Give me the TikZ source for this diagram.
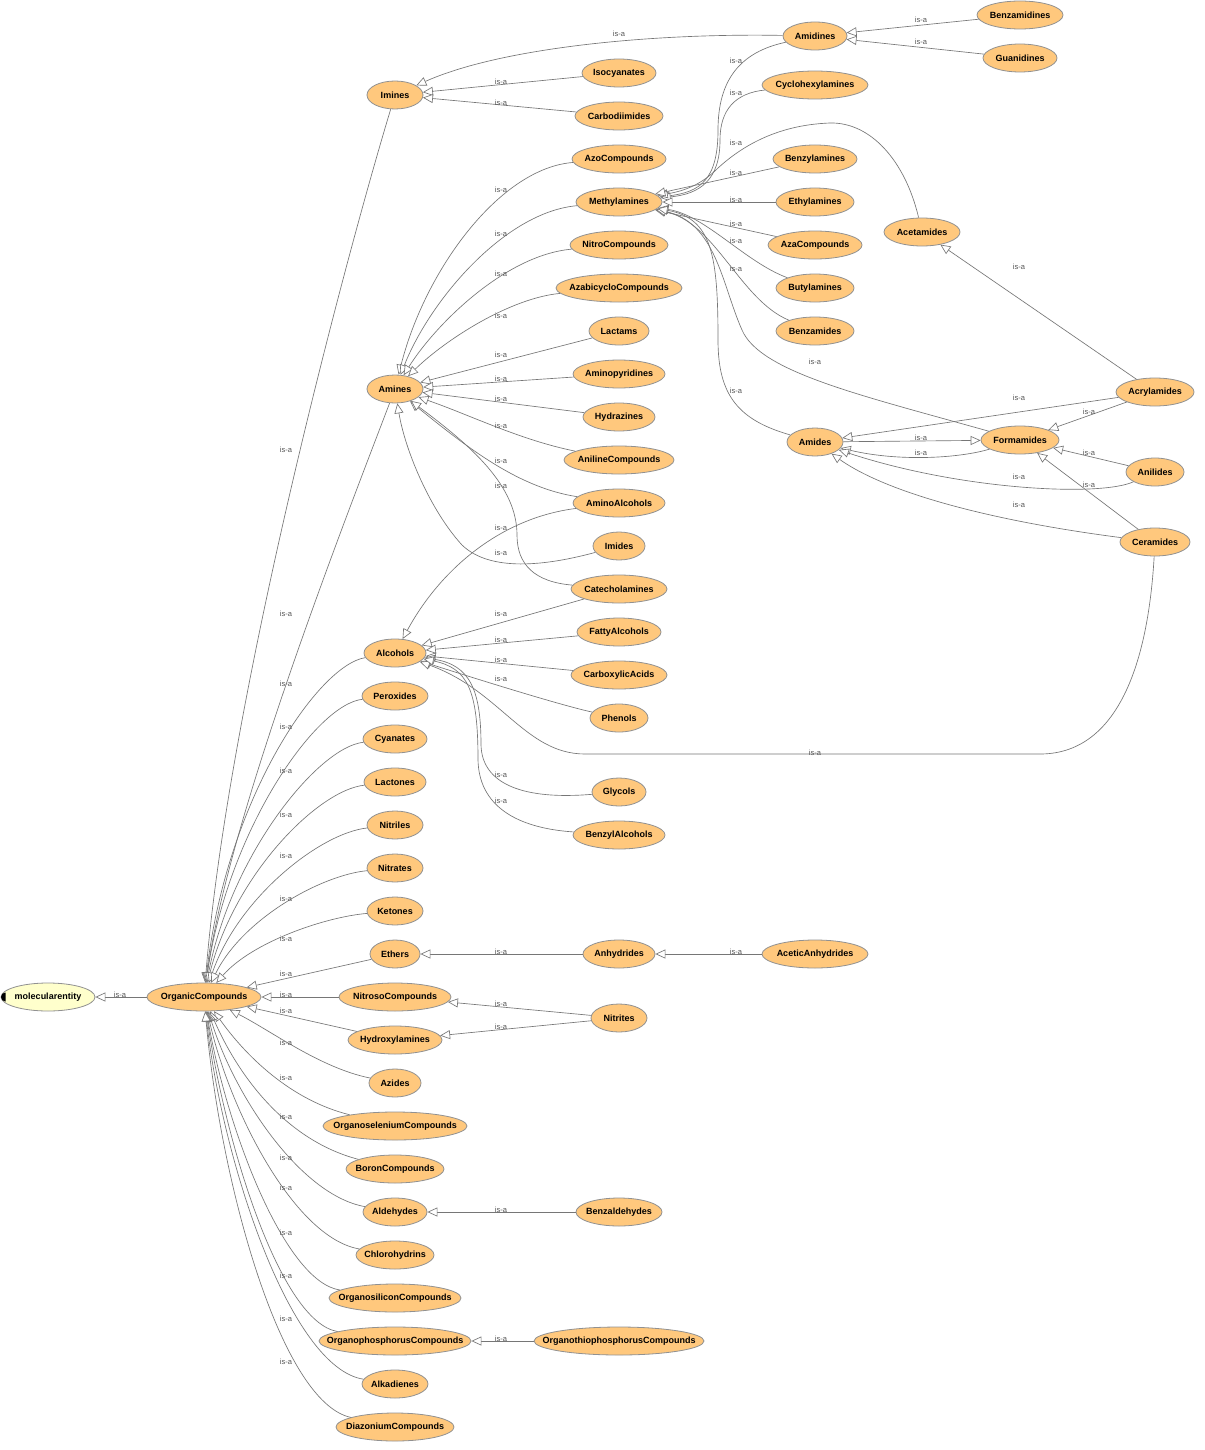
\documentclass[tikz,border=0pt]{standalone}
\usepackage{fontspec}
\setmainfont{Liberation Sans}
\usetikzlibrary{arrows.meta,shapes.geometric}
\definecolor{entfill}{RGB}{255,200,125}
\definecolor{rootfill}{RGB}{255,255,204}
\definecolor{entline}{RGB}{145,145,145}
\definecolor{edgec}{RGB}{118,118,118}
\definecolor{lblc}{RGB}{85,85,85}
\newcommand\lbl[1]{\makebox[0pt]{#1}}
\newcommand\ent[5]{\node[ent,minimum width=#4pt] (#1) at (#2,#3) {\lbl{#5}};}
\begin{document}
\begin{tikzpicture}[x=1pt,y=-1pt,
 ent/.style={ellipse, draw=entline, fill=entfill, line width=0.8pt, minimum height=28pt, inner sep=0pt, font=\fontsize{9}{10}\selectfont\bfseries},
 isa/.style={draw=edgec, line width=0.65pt, -{Triangle[length=10pt,width=9pt,fill=white]}},
 isalbl/.style={text=lblc, font=\fontsize{7.5}{8}\selectfont, inner sep=0pt}]
\useasboundingbox[fill=white] (0,0) rectangle (1204,1450);

% ---------- nodes ----------
\node[ent,fill=rootfill,minimum width=94pt] (ME) at (48,997) {\lbl{molecularentity}};
\ent{OC}{204}{997}{114}{OrganicCompounds}
\ent{Imines}{395}{95}{56}{Imines}
\ent{Amidines}{815}{36}{64}{Amidines}
\ent{Benzamidines}{1020}{15}{86}{Benzamidines}
\ent{Guanidines}{1020}{58}{74}{Guanidines}
\ent{Isocyanates}{619}{73}{74}{Isocyanates}
\ent{Carbodiimides}{619}{116}{88}{Carbodiimides}
\ent{Cyclohexylamines}{815}{85}{106}{Cyclohexylamines}
\ent{Azo}{619}{159}{94}{AzoCompounds}
\ent{Methylamines}{619}{202}{86}{Methylamines}
\ent{Benzylamines}{815}{159}{84}{Benzylamines}
\ent{Ethylamines}{815}{202}{78}{Ethylamines}
\ent{AzaCompounds}{815}{245}{94}{AzaCompounds}
\ent{Butylamines}{815}{288}{78}{Butylamines}
\ent{Benzamides}{815}{331}{78}{Benzamides}
\ent{Acetamides}{922}{232}{76}{Acetamides}
\ent{Nitro}{619}{245}{98}{NitroCompounds}
\ent{Azabicyclo}{619}{288}{126}{AzabicycloCompounds}
\ent{Lactams}{619}{331}{60}{Lactams}
\ent{Amines}{395}{389}{56}{Amines}
\ent{Aminopyridines}{619}{374}{92}{Aminopyridines}
\ent{Hydrazines}{619}{417}{72}{Hydrazines}
\ent{Aniline}{619}{460}{110}{AnilineCompounds}
\ent{AminoAlcohols}{619}{503}{92}{AminoAlcohols}
\ent{Imides}{619}{546}{52}{Imides}
\ent{Catecholamines}{619}{589}{96}{Catecholamines}
\ent{Amides}{815}{442}{56}{Amides}
\ent{Formamides}{1020}{440}{78}{Formamides}
\ent{Acrylamides}{1155}{392}{78}{Acrylamides}
\ent{Anilides}{1155}{472}{58}{Anilides}
\ent{Ceramides}{1155}{542}{70}{Ceramides}
\ent{Alcohols}{395}{653}{62}{Alcohols}
\ent{FattyAlcohols}{619}{632}{84}{FattyAlcohols}
\ent{CarboxylicAcids}{619}{675}{96}{CarboxylicAcids}
\ent{Phenols}{619}{718}{58}{Phenols}
\ent{Glycols}{619}{792}{54}{Glycols}
\ent{BenzylAlcohols}{619}{835}{92}{BenzylAlcohols}
\ent{Peroxides}{395}{696}{66}{Peroxides}
\ent{Cyanates}{395}{739}{64}{Cyanates}
\ent{Lactones}{395}{782}{62}{Lactones}
\ent{Nitriles}{395}{825}{56}{Nitriles}
\ent{Nitrates}{395}{868}{56}{Nitrates}
\ent{Ketones}{395}{911}{56}{Ketones}
\ent{Ethers}{395}{954}{50}{Ethers}
\ent{Anhydrides}{619}{954}{72}{Anhydrides}
\ent{AceticAnhydrides}{815}{954}{106}{AceticAnhydrides}
\ent{Nitroso}{395}{997}{112}{NitrosoCompounds}
\ent{Nitrites}{619}{1018}{56}{Nitrites}
\ent{Hydroxylamines}{395}{1040}{94}{Hydroxylamines}
\ent{Azides}{395}{1083}{52}{Azides}
\ent{Organoselenium}{395}{1126}{144}{OrganoseleniumCompounds}
\ent{Boron}{395}{1169}{98}{BoronCompounds}
\ent{Aldehydes}{395}{1212}{64}{Aldehydes}
\ent{Benzaldehydes}{619}{1212}{86}{Benzaldehydes}
\ent{Chlorohydrins}{395}{1255}{78}{Chlorohydrins}
\ent{Organosilicon}{395}{1298}{132}{OrganosiliconCompounds}
\ent{Organophos}{395}{1341}{152}{OrganophosphorusCompounds}
\ent{Organothio}{619}{1341}{170}{OrganothiophosphorusCompounds}
\ent{Alkadienes}{395}{1384}{66}{Alkadienes}
\ent{Diazonium}{395}{1427}{118}{DiazoniumCompounds}

% marker on molecularentity
\fill[black] (5.5,992.5) arc[start angle=90, end angle=270, radius=4.5pt] -- cycle;

% ---------- edges ----------
\draw[isa] (OC) -- (ME);
% OrganicCompounds fan (top)
\draw[isa] (Imines) .. controls (345,260) and (228,700) .. (OC);
\draw[isa] (Amines) .. controls (345,520) and (228,820) .. (OC);
\draw[isa] (Alcohols) .. controls (318,665) and (226,800) .. (OC);
\draw[isa] (Peroxides) .. controls (316,704) and (228,830) .. (OC);
\draw[isa] (Cyanates) .. controls (318,747) and (231,855) .. (OC);
\draw[isa] (Lactones) .. controls (318,790) and (234,875) .. (OC);
\draw[isa] (Nitriles) .. controls (320,833) and (238,898) .. (OC);
\draw[isa] (Nitrates) .. controls (322,875) and (243,918) .. (OC);
\draw[isa] (Ketones) .. controls (325,917) and (252,942) .. (OC);
\draw[isa] (Ethers) -- (OC);
\draw[isa] (Nitroso) -- (OC);
\draw[isa] (Hydroxylamines) -- (OC);
% OrganicCompounds fan (bottom)
\draw[isa] (Azides) .. controls (320,1068) and (270,1030) .. (OC);
\draw[isa] (Organoselenium) .. controls (290,1100) and (245,1055) .. (OC);
\draw[isa] (Boron) .. controls (285,1140) and (238,1075) .. (OC);
\draw[isa] (Aldehydes) .. controls (300,1195) and (234,1095) .. (OC);
\draw[isa] (Chlorohydrins) .. controls (295,1238) and (230,1112) .. (OC);
\draw[isa] (Organosilicon) .. controls (285,1282) and (227,1130) .. (OC);
\draw[isa] (Organophos) .. controls (280,1322) and (225,1142) .. (OC);
\draw[isa] (Alkadienes) .. controls (290,1368) and (222,1160) .. (OC);
\draw[isa] (Diazonium) .. controls (280,1402) and (220,1180) .. (OC);
% Imines / Amidines
\draw[isa] (Amidines) .. controls (650,33) and (500,48) .. (Imines);
\draw[isa] (Isocyanates) -- (Imines);
\draw[isa] (Carbodiimides) -- (Imines);
\draw[isa] (Benzamidines) -- (Amidines);
\draw[isa] (Guanidines) -- (Amidines);
% Methylamines
\draw[isa] (Amidines) .. controls (740,52) and (718,80) .. (718,130) .. controls (718,180) and (700,192) .. (Methylamines);
\draw[isa] (Cyclohexylamines) .. controls (735,93) and (720,110) .. (720,140) .. controls (720,180) and (700,194) .. (Methylamines);
\draw[isa] (Acetamides) .. controls (905,160) and (870,122) .. (830,123) .. controls (775,125) and (740,148) .. (718,168) .. controls (705,181) and (690,190) .. (Methylamines);
\draw[isa] (Benzylamines) -- (Methylamines);
\draw[isa] (Ethylamines) -- (Methylamines);
\draw[isa] (AzaCompounds) -- (Methylamines);
\draw[isa] (Butylamines) .. controls (745,262) and (705,215) .. (Methylamines);
\draw[isa] (Benzamides) .. controls (740,300) and (715,222) .. (Methylamines);
\draw[isa] (Formamides) .. controls (860,395) and (760,372) .. (742,330) .. controls (722,285) and (716,222) .. (Methylamines);
\draw[isa] (Amides) .. controls (738,420) and (718,395) .. (718,340) .. controls (718,255) and (712,218) .. (Methylamines);
% Amines
\draw[isa] (Azo) .. controls (500,168) and (425,270) .. (Amines);
\draw[isa] (Methylamines) .. controls (505,212) and (430,300) .. (Amines);
\draw[isa] (Nitro) .. controls (505,255) and (435,325) .. (Amines);
\draw[isa] (Azabicyclo) .. controls (510,298) and (445,340) .. (Amines);
\draw[isa] (Lactams) -- (Amines);
\draw[isa] (Aminopyridines) -- (Amines);
\draw[isa] (Hydrazines) -- (Amines);
\draw[isa] (Aniline) .. controls (520,440) and (470,415) .. (Amines);
\draw[isa] (AminoAlcohols) .. controls (520,488) and (470,450) .. (Amines);
\draw[isa] (Catecholamines) .. controls (535,582) and (517,565) .. (517,535) .. controls (517,485) and (470,445) .. (Amines);
\draw[isa] (Imides) .. controls (545,566) and (490,572) .. (462,545) .. controls (430,510) and (405,450) .. (Amines);
% Alcohols
\draw[isa] (AminoAlcohols) .. controls (500,518) and (440,570) .. (Alcohols);
\draw[isa] (Catecholamines) -- (Alcohols);
\draw[isa] (FattyAlcohols) -- (Alcohols);
\draw[isa] (CarboxylicAcids) -- (Alcohols);
\draw[isa] (Phenols) .. controls (560,705) and (480,680) .. (Alcohols);
\draw[isa] (Ceramides) .. controls (1147,680) and (1110,754) .. (1040,754) -- (585,754) .. controls (525,754) and (500,690) .. (Alcohols);
\draw[isa] (Glycols) .. controls (525,800) and (482,785) .. (481,745) .. controls (481,690) and (470,665) .. (Alcohols);
\draw[isa] (BenzylAlcohols) .. controls (515,828) and (479,805) .. (478,760) .. controls (478,690) and (468,668) .. (Alcohols);
% Amides group
\draw[isa] (Acrylamides) -- (Acetamides);
\draw[isa] (Acrylamides) -- (Amides);
\draw[isa] (Acrylamides) -- (Formamides);
\draw[isa] (Amides) -- (Formamides);
\draw[isa] (Formamides) .. controls (960,458) and (900,462) .. (Amides);
\draw[isa] (Anilides) -- (Formamides);
\draw[isa] (Anilides) .. controls (1100,497) and (960,490) .. (Amides);
\draw[isa] (Ceramides) -- (Formamides);
\draw[isa] (Ceramides) .. controls (1000,522) and (890,495) .. (Amides);
% others
\draw[isa] (Anhydrides) -- (Ethers);
\draw[isa] (AceticAnhydrides) -- (Anhydrides);
\draw[isa] (Nitrites) -- (Nitroso);
\draw[isa] (Nitrites) -- (Hydroxylamines);
\draw[isa] (Benzaldehydes) -- (Aldehydes);
\draw[isa] (Organothio) -- (Organophos);

% ---------- labels ----------
\foreach \x/\y [count=\i] in {120/995, 619/34, 501/82, 501/103, 921/20, 921/42,
  736/61, 736/93, 736/143, 736/173, 736/200, 736/224, 736/241, 736/269, 815/362, 736/391,
  1019/267, 1019/398, 1089/412, 921/438, 921/453, 1089/453, 1019/477, 1089/485, 1019/505,
  501/190, 501/234, 501/274, 501/316, 501/355, 501/379, 501/399, 501/426, 501/461, 501/486,
  501/528, 501/553, 501/614, 501/640, 501/660, 501/679, 815/753, 501/775, 501/801,
  501/952, 736/952, 501/1004, 501/1027, 501/1210, 501/1339,
  286/450, 286/614, 286/684, 286/727, 286/771, 286/815, 286/856, 286/899, 286/939, 286/974,
  286/995, 286/1011, 286/1043, 286/1078, 286/1117, 286/1158, 286/1188, 286/1233, 286/1276,
  286/1319, 286/1362}
  \node[isalbl] (lab\i) at (\x,\y) {is-a};
\end{tikzpicture}
\end{document}
